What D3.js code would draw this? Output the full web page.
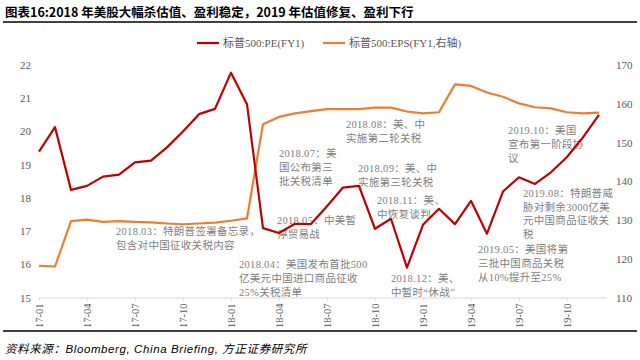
<!DOCTYPE html>
<html><head><meta charset="utf-8">
<script src="https://cdn.jsdelivr.net/npm/d3@7"></script>
<style>
body{margin:0;background:#fff;}
svg{display:block;}
</style></head>
<body>
<svg id="c" width="640" height="360"></svg>
<script>
const months = ["17-01","17-02","17-03","17-04","17-05","17-06","17-07","17-08","17-09","17-10","17-11","17-12",
"18-01","18-02","18-03","18-04","18-05","18-06","18-07","18-08","18-09","18-10","18-11","18-12",
"19-01","19-02","19-03","19-04","19-05","19-06","19-07","19-08","19-09","19-10","19-11","19-12"];
const tickLabels = ["17-01","17-04","17-07","17-10","18-01","18-04","18-07","18-10","19-01","19-04","19-07","19-10"];
const pe = [19.39,20.13,18.24,18.36,18.64,18.70,19.07,19.12,19.52,20.00,20.52,20.68,
21.77,20.82,17.09,16.94,17.22,17.21,17.75,18.31,18.36,17.07,17.37,15.90,
17.19,17.67,17.21,17.91,16.92,18.19,18.62,18.42,18.77,19.23,19.82,20.50];
const eps = [118.2,118.0,129.7,130.1,129.5,129.7,129.5,129.4,129.1,128.9,129.1,129.3,
129.8,130.4,154.7,156.6,157.5,158.1,158.6,158.6,158.6,159.0,159.0,158.0,
157.5,157.8,165.0,164.6,162.9,161.8,160.1,159.1,158.8,157.8,157.5,157.7];
const leftTicks = [15,16,17,18,19,20,21,22];
const rightTicks = [110,120,130,140,150,160,170];
const seriesNames = ["标普500:PE(FY1)","标普500:EPS(FY1,右轴)"];
const title = "图表16:2018 年美股大幅杀估值、盈利稳定，2019 年估值修复、盈利下行";
const source = "资料来源：Bloomberg, China Briefing, 方正证券研究所";
// annotation anchors: month near the text's left edge, value on left axis for first line
const notes = [
 {m:"17-06", dx:-3, v:17.0, lines:["2018.03：特朗普签署备忘录，","包含对中国征收关税内容"]},
 {m:"18-01", dx:8, v:16.0, lines:["2018.04：美国发布首批500","亿美元中国进口商品征收","25%关税清单"]},
 {m:"18-04", dx:-2, v:17.33, lines:["2018.05：中美暂","停贸易战"]},
 {m:"18-04", dx:0, v:19.33, lines:["2018.07：美","国公布第三","批关税清单"]},
 {m:"18-08", dx:3, v:20.2, lines:["2018.08：美、中","实施第二轮关税"]},
 {m:"18-09", dx:-1, v:18.89, lines:["2018.09：美、中","实施第三轮关税"]},
 {m:"18-10", dx:2, v:17.93, lines:["2018.11：美、","中恢复谈判"]},
 {m:"18-11", dx:0, v:15.58, lines:["2018.12：美、","中暂时“休战”"]},
 {m:"19-04", dx:7, v:16.45, lines:["2019.05：美国将第","三批中国商品关税","从10%提升至25%"]},
 {m:"19-07", dx:4, v:18.14, lines:["2019.08：特朗普威","胁对剩余3000亿美","元中国商品征收关","税"]},
 {m:"19-06", dx:5, v:20.02, lines:["2019.10：美国","宣布第一阶段协","议"]}
];

const svg = d3.select("#c");
const plotTop = 65, plotBottom = 297.5;
const x = d3.scaleLinear().domain([0, 35.44]).range([39, 606]);
const yL = d3.scaleLinear().domain([15,22]).range([plotBottom, plotTop]);
const yR = d3.scaleLinear().domain([110,170]).range([plotBottom, plotTop]);
const serif = "'Liberation Serif','Times New Roman','Noto Sans CJK SC',serif";
const cjk = "'Noto Sans CJK SC','Liberation Serif',sans-serif";

// title
svg.append("text").attr("x",5).attr("y",17).attr("font-family",cjk).attr("font-weight","bold")
 .attr("font-size",12.5).attr("fill","#000").text(title);
svg.append("line").attr("x1",3).attr("x2",637).attr("y1",22).attr("y2",22).attr("stroke","#000").attr("stroke-width",1.6);

// legend
const legColors = ["#c00000","#ed7d31"];
const legX = [197, 323];
seriesNames.forEach((n,i)=>{
  svg.append("line").attr("x1",legX[i]).attr("x2",legX[i]+22).attr("y1",43).attr("y2",43)
    .attr("stroke",legColors[i]).attr("stroke-width",2.2);
  svg.append("text").attr("x",legX[i]+26).attr("y",47).attr("font-family",serif).attr("font-size",11)
    .attr("fill","#595959").text(n);
});

// x axis
const idx = tickLabels.map(t=>months.indexOf(t));
const xAxis = d3.axisBottom(x).tickValues(idx).tickFormat(i=>months[i]).tickSize(3).tickSizeOuter(0);
const gx = svg.append("g").attr("transform",`translate(0,${plotBottom})`).call(xAxis);
gx.select(".domain").attr("stroke","#d9d9d9");
gx.selectAll(".tick line").attr("stroke","#d9d9d9");
gx.selectAll(".tick text").attr("font-family",serif).attr("font-size",10.5).attr("fill","#595959")
  .attr("transform","rotate(-90)").attr("text-anchor","end").attr("x",-6).attr("y",0).attr("dy","0.35em");

// y axes
const gl = svg.append("g").attr("transform","translate(31,0)")
  .call(d3.axisLeft(yL).tickValues(leftTicks).tickSize(0).tickFormat(d3.format("d")));
gl.select(".domain").remove();
gl.selectAll("text").attr("font-family",serif).attr("font-size",11).attr("fill","#595959").attr("x",0);
const gr = svg.append("g").attr("transform","translate(616,0)")
  .call(d3.axisRight(yR).tickValues(rightTicks).tickSize(0).tickFormat(d3.format("d")));
gr.select(".domain").remove();
gr.selectAll("text").attr("font-family",serif).attr("font-size",11).attr("fill","#595959").attr("x",0);

// annotations
const ng = svg.append("g");
notes.forEach(n=>{
  const t = ng.append("text").attr("font-family",serif).attr("font-size",10.5).attr("fill","#808080")
    .attr("letter-spacing","0.3px");
  n.lines.forEach((l,j)=>{
    t.append("tspan").attr("x", x(months.indexOf(n.m)) + n.dx).attr("y", yL(n.v) + j*13.8).attr("dy","0.35em").text(l);
  });
});

// lines
const lineR = d3.line().x((d,i)=>x(i)).y(d=>yR(d));
const lineL = d3.line().x((d,i)=>x(i)).y(d=>yL(d));
svg.append("path").datum(eps).attr("d",lineR).attr("fill","none").attr("stroke","#ed7d31").attr("stroke-width",2.2).attr("stroke-linejoin","round");
svg.append("path").datum(pe).attr("d",lineL).attr("fill","none").attr("stroke","#c00000").attr("stroke-width",2.2).attr("stroke-linejoin","round");

// footer
svg.append("line").attr("x1",3).attr("x2",637).attr("y1",331).attr("y2",331).attr("stroke","#000").attr("stroke-width",1.6);
svg.append("text").attr("x",5).attr("y",353).attr("font-family","'Liberation Sans','Noto Sans CJK SC',sans-serif")
  .attr("font-style","italic").attr("font-size",11.5).attr("letter-spacing","0.6px").attr("fill","#000").text(source);
</script>
</body></html>
